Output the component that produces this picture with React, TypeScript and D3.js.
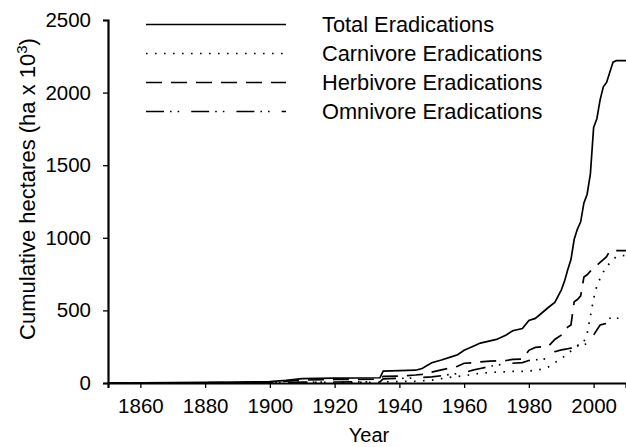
import { useRef, useEffect } from 'react'
import * as d3 from 'd3'

// years shared by every series (cumulative values, ha x 10^3)
const years = [1850, 1870, 1880, 1890, 1900, 1905, 1910, 1920, 1934, 1935, 1940, 1945, 1947, 1950, 1953, 1956, 1958, 1960, 1963, 1965, 1968, 1970, 1973, 1975, 1978, 1980, 1982, 1984, 1986, 1988, 1990, 1991, 1992, 1993, 1994, 1995, 1996, 1997, 1998, 1999, 2000, 2001, 2002, 2003, 2004, 2005, 2006, 2007, 2010]

const total = [0, 2, 4, 6, 10, 18, 30, 33, 36, 82, 85, 88, 100, 140, 158, 180, 195, 225, 255, 275, 290, 300, 331, 360, 375, 430, 445, 482, 520, 555, 640, 700, 780, 850, 990, 1060, 1110, 1240, 1300, 1440, 1760, 1820, 1950, 2040, 2070, 2140, 2210, 2220, 2220]
const carnivore = [0, 0, 1, 1, 2, 3, 4, 5, 5, 8, 10, 12, 15, 20, 30, 40, 45, 50, 60, 68, 72, 75, 78, 80, 80, 82, 88, 95, 110, 140, 165, 185, 205, 220, 240, 255, 262, 285, 340, 460, 580, 670, 720, 765, 800, 826, 850, 870, 880]
const herbivore = [0, 1, 2, 3, 6, 12, 20, 24, 26, 45, 48, 55, 60, 75, 90, 105, 115, 136, 140, 145, 150, 152, 155, 163, 165, 225, 245, 250, 252, 300, 330, 345, 385, 400, 560, 575, 600, 730, 745, 770, 790, 810, 830, 850, 870, 910, 912, 912, 912]
const omnivore = [0, 1, 1, 2, 2, 3, 6, 7, 8, 28, 32, 35, 38, 42, 50, 60, 65, 72, 90, 100, 115, 124, 130, 136, 140, 155, 160, 163, 170, 215, 228, 232, 236, 240, 255, 260, 262, 265, 270, 295, 330, 365, 400, 405, 411, 446, 446, 446, 446]

const seriesNames = ['Total Eradications', 'Carnivore Eradications', 'Herbivore Eradications', 'Omnivore Eradications']
const xTicks = [1860, 1880, 1900, 1920, 1940, 1960, 1980, 2000]
const yTicks = [0, 500, 1000, 1500, 2000, 2500]

const App = () => {
    const svgRef = useRef<SVGSVGElement>(null)

    useEffect(() => {
        const w = 626
        const h = 447
        const svg = d3.select(svgRef.current)
            .attr('width', w)
            .attr('height', h)
            .style('background', '#fff')
            .style('font-family', '"Liberation Sans", Arial, sans-serif')
        svg.selectAll('*').remove()

        const x = d3.scaleLinear().domain([1850, 2010]).range([108, 626])
        const y = d3.scaleLinear().domain([0, 2500]).range([383, 20])

        const series = [
            { name: seriesNames[0], values: total, dash: null },
            { name: seriesNames[1], values: carnivore, dash: '1.6,7.4' },
            { name: seriesNames[2], values: herbivore, dash: '16,9' },
            { name: seriesNames[3], values: omnivore, dash: '18,6,1.6,6,1.6,12' },
        ]

        const line = d3.line<number>()
            .x((d, i) => x(years[i]))
            .y(d => y(d))

        // curves
        svg.selectAll('.series')
            .data(series)
            .join('path')
                .attr('class', 'series')
                .attr('d', d => line(d.values))
                .attr('fill', 'none')
                .attr('stroke', '#000')
                .attr('stroke-width', 1.7)
                .attr('stroke-dasharray', d => d.dash)

        // axes
        const xAxis = d3.axisBottom(x).tickValues(xTicks).tickFormat(d3.format('d')).tickSizeOuter(0).tickSize(5).tickPadding(10)
        const yAxis = d3.axisLeft(y).tickValues(yTicks).tickFormat(d3.format('d')).tickSizeOuter(0).tickSize(5).tickPadding(12)
        const gx = svg.append('g').attr('transform', `translate(0, ${y(0)})`).call(xAxis)
        const gy = svg.append('g').attr('transform', `translate(${x(1850)}, 0)`).call(yAxis)
        for (const g of [gx, gy]) {
            g.select('.domain').attr('stroke-width', 2.2)
            g.selectAll('.tick line').attr('stroke-width', 1.3)
            g.selectAll('.tick text')
                .attr('font-size', 20.5)
                .attr('font-family', '"Liberation Sans", Arial, sans-serif')
                .attr('fill', '#000')
        }

        // axis titles
        svg.append('text')
            .attr('x', 369)
            .attr('y', 442)
            .attr('text-anchor', 'middle')
            .attr('font-size', 20)
            .text('Year')
        const yl = svg.append('text')
            .attr('transform', 'translate(35, 189) rotate(-90)')
            .attr('text-anchor', 'middle')
            .attr('font-size', 22)
        yl.append('tspan').text('Cumulative hectares (ha x 10')
        yl.append('tspan').attr('font-size', 15).attr('dy', -8).text('3')
        yl.append('tspan').attr('dy', 8).text(')')

        // legend
        const lg = svg.append('g')
        const rows = lg.selectAll('g')
            .data(series)
            .join('g')
                .attr('transform', (d, i) => `translate(0, ${24.5 + i * 29})`)
        rows.append('line')
            .attr('x1', 146).attr('x2', 286)
            .attr('stroke', '#000')
            .attr('stroke-width', 1.6)
            .attr('stroke-dasharray', d => d.dash)
        rows.append('text')
            .attr('x', 322)
            .attr('y', 7.5)
            .attr('font-size', 21.8)
            .text(d => d.name)
    }, [])

    return (
        <div style={{ position: 'absolute', left: 0, top: 0 }}>
            <svg ref={svgRef}></svg>
        </div>
    )
}

export default App
